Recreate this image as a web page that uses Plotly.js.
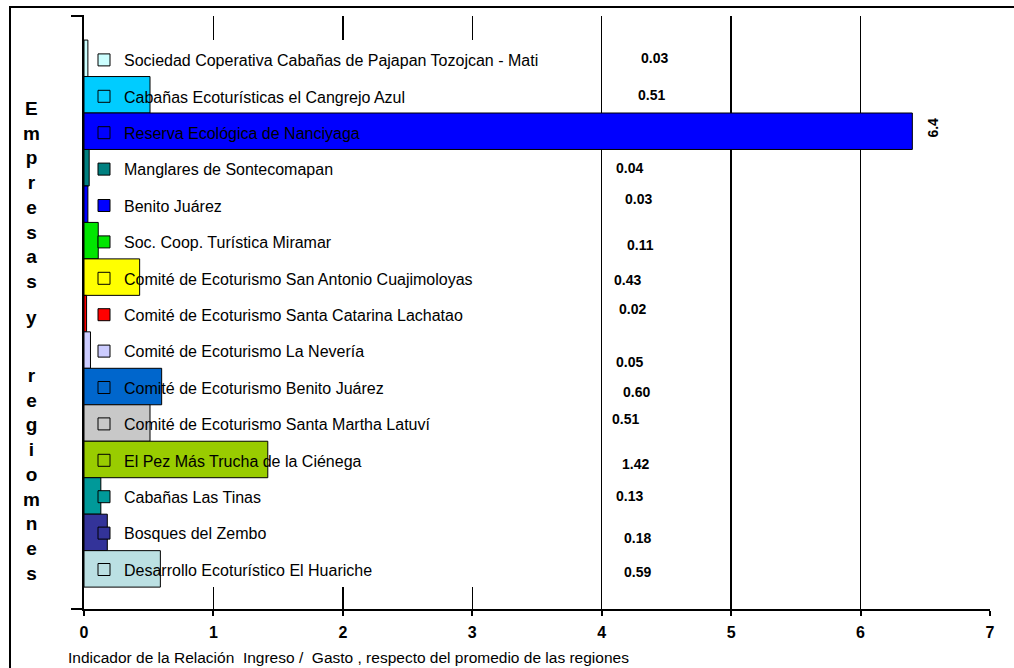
<!DOCTYPE html>
<html>
<head>
<meta charset="utf-8">
<script src="https://cdn.plot.ly/plotly-3.0.1.min.js"></script>
<style>html,body{margin:0;padding:0;background:#fff;}#chart{width:1014px;height:668px;}</style>
</head>
<body>
<div id="chart"></div>
<script>
// ---- data ----
const empresas = [
  "Sociedad Coperativa Cabañas de Pajapan Tozojcan - Mati",
  "Cabañas Ecoturísticas el Cangrejo Azul",
  "Reserva Ecológica de Nanciyaga",
  "Manglares de Sontecomapan",
  "Benito Juárez",
  "Soc. Coop. Turística Miramar",
  "Comité de Ecoturismo San Antonio Cuajimoloyas",
  "Comité de Ecoturismo Santa Catarina Lachatao",
  "Comité de Ecoturismo La Nevería",
  "Comité de Ecoturismo Benito Juárez",
  "Comité de Ecoturismo Santa Martha Latuví",
  "El Pez Más Trucha de la Ciénega",
  "Cabañas Las Tinas",
  "Bosques del Zembo",
  "Desarrollo Ecoturístico El Huariche"
];
const indicador = [0.03, 0.51, 6.4, 0.04, 0.03, 0.11, 0.43, 0.02, 0.05, 0.60, 0.51, 1.42, 0.13, 0.18, 0.59];
const etiquetas = ["0.03", "0.51", "6.4", "0.04", "0.03", "0.11", "0.43", "0.02", "0.05", "0.60", "0.51", "1.42", "0.13", "0.18", "0.59"];
const xTicks = [0, 1, 2, 3, 4, 5, 6, 7];

// ---- styles ----
const colores = ["#CCFFFF", "#00CCFF", "#0000FF", "#008080", "#0000FF", "#00E600", "#FFFF00", "#FF0000",
                 "#CCCCFF", "#0066CC", "#C8C8C8", "#99CC00", "#009999", "#333399", "#BBE0E3"];
// label nudges (pixels) to mimic the original placement
const labelDx = [14, 11, 0, -11, -2, 0, -13, -8, -11, -4, -15, -5, -11, -3, -3];
const labelDy = [0, 0, 0, 0, 5, -4, -3, 5, -12, -5, 4, -5, 0, -6, -3];

const FONT = "Arial, 'Liberation Sans', sans-serif";

const traces = empresas.map((name, i) => ({
  type: "bar",
  orientation: "h",
  name: name,
  legendgroup: "g" + i,
  x: [indicador[i]],
  y: [name],
  marker: {color: colores[i], line: {color: "#000", width: 1}},
  hoverinfo: "skip"
}));

// plot area in pixels: left 84, right 990, top 16, bottom 609
const PT = 16, PB = 609, PH = PB - PT, PL = 84, PW = 906;
const py = p => (PB - p) / PH;
const px = p => (p - PL) / PW;

const annotations = indicador.map((v, i) => {
  if (i === 2) {
    return {x: v, y: empresas[i], xref: "x", yref: "y", text: "<b>" + etiquetas[i] + "</b>",
            showarrow: false, textangle: -90, xanchor: "center", xshift: 21, yshift: 4,
            font: {family: FONT, size: 14, color: "#000"}};
  }
  return {x: 4.3, y: empresas[i], xref: "x", yref: "y", text: "<b>" + etiquetas[i] + "</b>",
          showarrow: false, xanchor: "center", xshift: labelDx[i], yshift: labelDy[i],
          font: {family: FONT, size: 14, color: "#000"}};
});

annotations.push(
  {xref: "paper", yref: "paper", x: px(31), y: py(96), yanchor: "top", xanchor: "center", showarrow: false,
   text: "<b>" + "Empresas".split("").join("<br>") + "</b>", font: {family: FONT, size: 19, color: "#000"}},
  {xref: "paper", yref: "paper", x: px(31), y: py(318), yanchor: "middle", xanchor: "center", showarrow: false,
   text: "<b>y</b>", font: {family: FONT, size: 19, color: "#000"}},
  {xref: "paper", yref: "paper", x: px(31), y: py(363), yanchor: "top", xanchor: "center", showarrow: false,
   text: "<b>" + "regiomnes".split("").join("<br>") + "</b>", font: {family: FONT, size: 19, color: "#000"}},
  {xref: "paper", yref: "paper", x: px(66), y: py(657), xanchor: "left", yanchor: "middle", showarrow: false,
   text: "Indicador de la Relación  Ingreso /  Gasto , respecto del promedio de las regiones",
   font: {family: FONT, size: 15.5, color: "#000"}}
);

const shapes = [
  // hide inner gridlines behind the legend box
  {type: "rect", layer: "between", xref: "x", yref: "y", x0: 0.02, x1: 3.985, y0: -0.5, y1: 14.5,
   fillcolor: "#fff", line: {width: 0}},
  // outer chart border
  {type: "rect", xref: "paper", yref: "paper", x0: px(10), x1: px(1100), y0: py(7), y1: py(760),
   line: {color: "#000", width: 2}, fillcolor: "rgba(0,0,0,0)"},
  // category axis end ticks
  {type: "line", xref: "paper", yref: "paper", x0: px(71), x1: px(84), y0: py(PT), y1: py(PT),
   line: {color: "#000", width: 2}},
  {type: "line", xref: "paper", yref: "paper", x0: px(71), x1: px(84), y0: 0, y1: 0,
   line: {color: "#000", width: 2}}
];

const layout = {
  width: 1014, height: 668,
  margin: {l: PL, r: 1014 - PL - PW, t: PT, b: 668 - PB, pad: 0},
  paper_bgcolor: "#fff", plot_bgcolor: "#fff",
  barmode: "overlay", bargap: 0,
  showlegend: true,
  legend: {x: px(84), y: py(43), xanchor: "left", yanchor: "top", bgcolor: "rgba(0,0,0,0)",
           borderwidth: 0, traceorder: "grouped", tracegroupgap: 12.6,
           font: {family: FONT, size: 16, color: "#000"}},
  xaxis: {range: [0, 7], tickvals: xTicks, ticktext: xTicks.map(String), showgrid: true, gridcolor: "#000", gridwidth: 1.5,
          zeroline: false, showline: true, linecolor: "#000", linewidth: 2, ticks: "outside", ticklen: 5,
          tickwidth: 2, tickcolor: "#000", ticklabelstandoff: 3,
          tickfont: {family: FONT, size: 16, color: "#000", weight: "bold"},
          fixedrange: true},
  yaxis: {type: "category", categoryorder: "array", categoryarray: empresas, range: [15.1, -1.16],
          showticklabels: false, showgrid: false, zeroline: false, showline: true, linecolor: "#000",
          linewidth: 2, ticks: "", fixedrange: true},
  annotations: annotations,
  shapes: shapes
};

Plotly.newPlot("chart", traces, layout, {displayModeBar: false, staticPlot: true});
</script>
</body>
</html>
